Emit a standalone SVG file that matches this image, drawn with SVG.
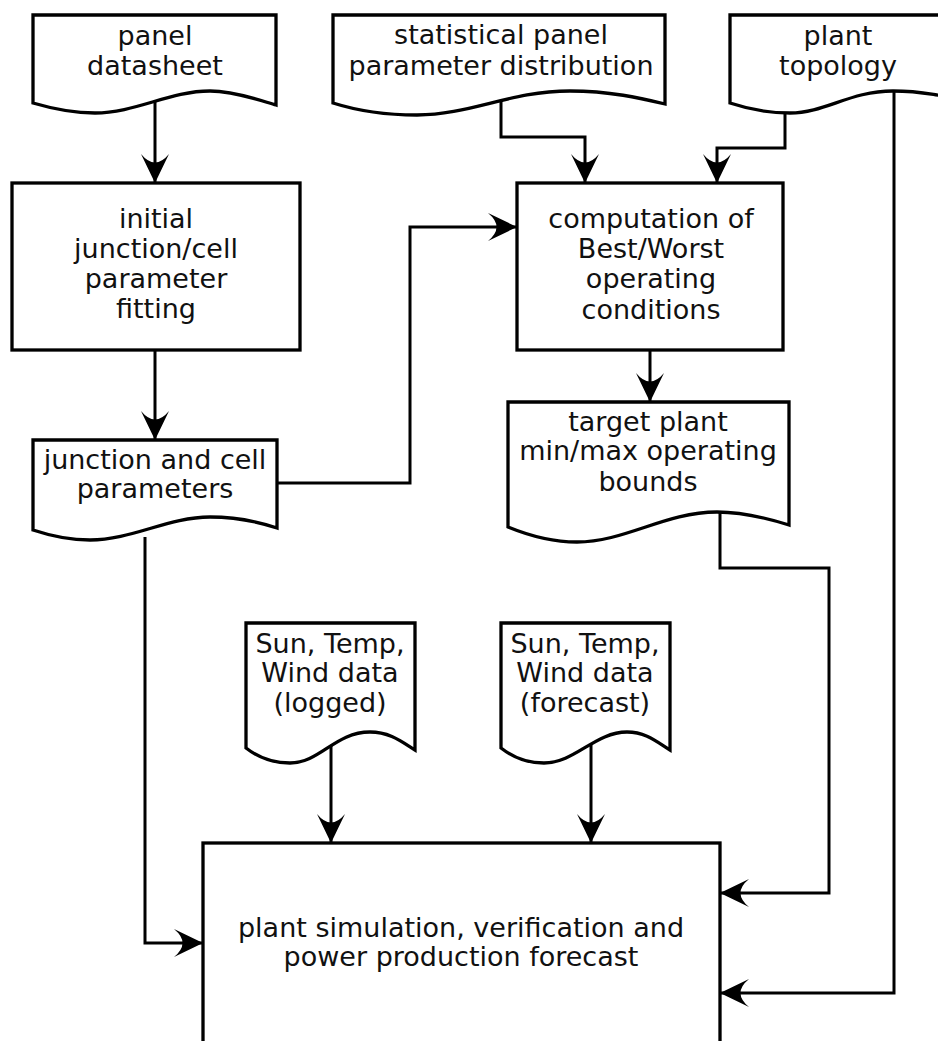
<svg xmlns="http://www.w3.org/2000/svg" width="938" height="1041" viewBox="0 0 938 1041">
<style>
.shape{fill:#fff;stroke:#000;stroke-width:3.3;stroke-linejoin:miter}
.conn{fill:none;stroke:#000;stroke-width:3}
text{font-family:"DejaVu Sans","Verdana",sans-serif;font-size:27px;fill:#111;text-anchor:middle}
</style>
<defs>
<marker id="arr" markerUnits="userSpaceOnUse" viewBox="-30 -15 32 30" refX="0" refY="0" markerWidth="32" markerHeight="30" orient="auto" overflow="visible">
<path d="M0,0 L-29,-14 Q-12,0 -29,14 Z" fill="#000"/>
</marker>
</defs>
<rect width="938" height="1041" fill="#fff"/>

<g id="connectors">
<path class="conn" d="M155,102 V183" marker-end="url(#arr)"/>
<path class="conn" d="M155,350 V440" marker-end="url(#arr)"/>
<path class="conn" d="M277,483 H410 V227 H517" marker-end="url(#arr)"/>
<path class="conn" d="M501,101 V137 H585 V183" marker-end="url(#arr)"/>
<path class="conn" d="M785,112 V148 H717 V183" marker-end="url(#arr)"/>
<path class="conn" d="M650,350 V402" marker-end="url(#arr)"/>
<path class="conn" d="M720,512 V568 H829 V893 H720" marker-end="url(#arr)"/>
<path class="conn" d="M894,91 V993 H720" marker-end="url(#arr)"/>
<path class="conn" d="M145,537 V943 H203" marker-end="url(#arr)"/>
<path class="conn" d="M331,745 V843" marker-end="url(#arr)"/>
<path class="conn" d="M591,740 V843" marker-end="url(#arr)"/>
</g>

<g id="panel-datasheet">
<path class="shape" d="M33,15 H276 V105 C262,101 235,91 210,91 C170,91 135,113 95,113 C70,113 50,108 33,103 Z"/>
<text x="155" y="45">panel</text>
<text x="155" y="75">datasheet</text>
</g>

<g id="statistical-distribution">
<path class="shape" d="M333,15 H665 V104 C640,98 610,91 570,91 C510,91 470,115 417,115 C385,115 355,110 333,103 Z"/>
<text x="501" y="44">statistical panel</text>
<text x="501" y="75">parameter distribution</text>
</g>

<g id="plant-topology">
<path class="shape" d="M730,15 H990 V106 C960,100 930,91 893,91 C850,91 825,113 790,113 C765,113 745,108 730,103 Z"/>
<text x="838" y="45">plant</text>
<text x="838" y="75">topology</text>
</g>

<g id="initial-fitting">
<rect class="shape" x="12" y="183" width="288" height="167"/>
<text x="156" y="228">initial</text>
<text x="156" y="258">junction/cell</text>
<text x="156" y="288">parameter</text>
<text x="156" y="318">fitting</text>
</g>

<g id="computation">
<rect class="shape" x="517" y="183" width="266" height="167"/>
<text x="651" y="228">computation of</text>
<text x="651" y="258">Best/Worst</text>
<text x="651" y="288">operating</text>
<text x="651" y="319">conditions</text>
</g>

<g id="junction-cell-parameters">
<path class="shape" d="M33,440 H277 V528 C262,523 238,517 210,517 C168,517 132,540 90,540 C66,540 48,535 33,530 Z"/>
<text x="155" y="469">junction and cell</text>
<text x="155" y="498">parameters</text>
</g>

<g id="target-bounds">
<path class="shape" d="M508,402 H789 V525 C770,519 745,512 717,512 C665,512 625,542 577,542 C548,542 525,534 508,527 Z"/>
<text x="648" y="431">target plant</text>
<text x="648" y="460">min/max operating</text>
<text x="648" y="491">bounds</text>
</g>

<g id="sun-logged">
<path class="shape" d="M246,623 H415 V750 C402,742 390,732 370,732 C335,732 320,763 290,763 C270,763 255,755 246,748 Z"/>
<text x="330" y="653">Sun, Temp,</text>
<text x="330" y="682">Wind data</text>
<text x="330" y="712">(logged)</text>
</g>

<g id="sun-forecast">
<path class="shape" d="M501,623 H670 V750 C657,742 646,732 627,732 C595,732 575,763 544,763 C524,763 510,755 501,748 Z"/>
<text x="585" y="653">Sun, Temp,</text>
<text x="585" y="682">Wind data</text>
<text x="585" y="712">(forecast)</text>
</g>

<g id="plant-simulation">
<rect class="shape" x="203" y="843" width="517" height="215"/>
<text x="461" y="937">plant simulation, verification and</text>
<text x="461" y="966">power production forecast</text>
</g>
</svg>
